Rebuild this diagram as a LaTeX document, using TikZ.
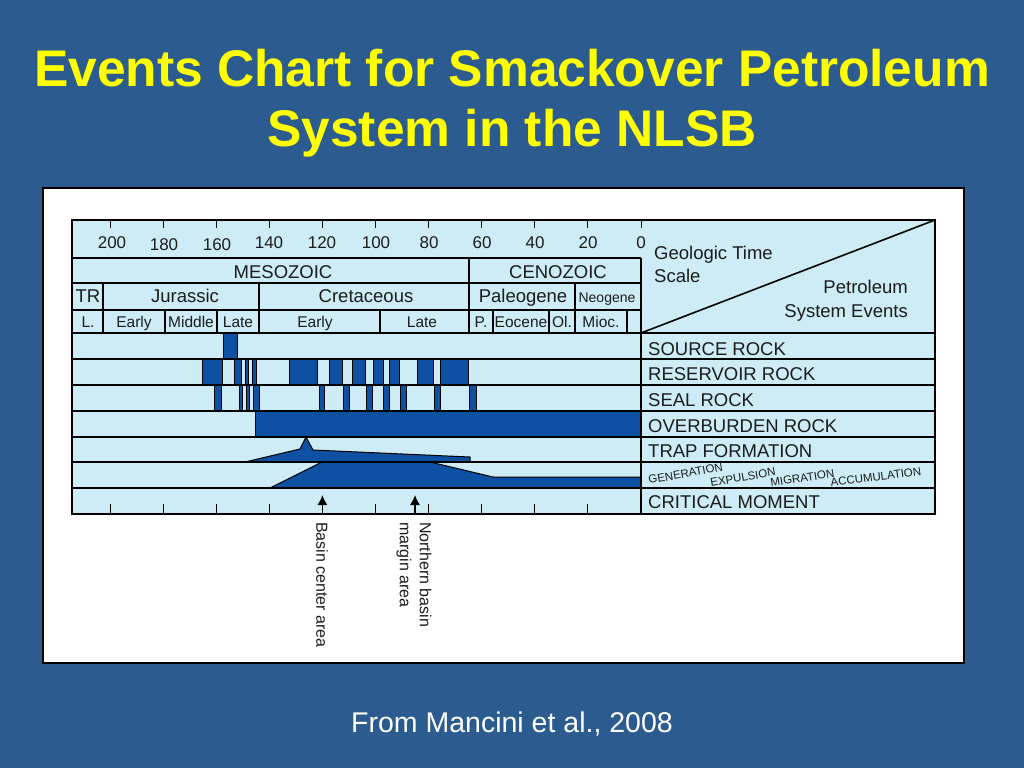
\documentclass[tikz,border=0pt]{standalone}
\usepackage{fontspec}
\setmainfont{Liberation Sans}
\usetikzlibrary{arrows.meta}
\definecolor{slidebg}{RGB}{43,91,143}
\definecolor{chartbg}{RGB}{205,236,245}
\definecolor{barblue}{RGB}{14,80,162}
\definecolor{ink}{RGB}{28,28,28}
\definecolor{titley}{RGB}{255,255,0}
\begin{document}
\begin{tikzpicture}[x=1pt,y=-1pt,
  lbl/.style={inner sep=0pt, text=ink, anchor=base},
  fsz/.style={font=\fontsize{#1}{#1}\selectfont},
  rowlbl/.style={lbl, anchor=base west, fsz=18.5},
  hdr/.style={lbl, fsz=18.5},
  epo/.style={lbl, fsz=15.5},
  tick/.style={lbl, fsz=17},
  proc/.style={lbl, anchor=base west, fsz=11.5},
  gridline/.style={draw=black, line width=1.6pt},
  bar/.style={fill=barblue, draw=black, line width=1pt},
  arr/.style={draw=black, line width=1.4pt, -{Latex[length=10pt,width=10pt]}},
  title/.style={inner sep=0pt, anchor=base, text=titley, font=\fontsize{51.5}{60}\selectfont\bfseries}
]
\useasboundingbox (0,0) rectangle (1024,768);
\fill[slidebg] (0,0) rectangle (1024,768);

% title
\node[title] (t1) at (512,86) {Events Chart for Smackover Petroleum};
\node[title] (t2) at (512,146) {System in the NLSB};

% white panel
\draw[fill=white, draw=black, line width=2pt] (43,188) rectangle (964,663);

% chart background
\fill[chartbg] (72,220) rectangle (935,514);

% source rock
\draw[bar] (223,333) rectangle (237,359);
% reservoir
\foreach \a/\b in {202/222,234/241,245/248,252/256,289/317,329/342,352/365,373/383,389/399,417/433,440/468}
  \draw[bar] (\a,359) rectangle (\b,385);
% seal
\foreach \a/\b in {214/221,239/242,246/249,253/259,319/324,343/349,366/372,383/389,400/406,434/440,469/476}
  \draw[bar] (\a,385) rectangle (\b,411);
% overburden
\draw[bar] (255,411) rectangle (641,437);
% trap formation
\draw[bar] (245,462) -- (300,449) -- (306,437) -- (313,450) -- (470,457) -- (470,462) -- cycle;
% generation etc
\draw[bar] (270,488) -- (322,462) -- (430,462) -- (493,477) -- (641,477) -- (641,488) -- cycle;

% grid
\draw[gridline] (72,220) rectangle (935,514);
\foreach \y in {258,283,310} \draw[gridline] (72,\y) -- (641,\y);
\foreach \y in {333,359,385,411,437,462,488} \draw[gridline] (72,\y) -- (935,\y);
\draw[gridline] (641,258) -- (641,514);
\draw[gridline] (641,333) -- (935,220);
\draw[gridline] (469,258) -- (469,283);
\foreach \x in {103,259,469,575} \draw[gridline] (\x,283) -- (\x,310);
\foreach \x in {103,165,217,259,380,469,493,549,575,627} \draw[gridline] (\x,310) -- (\x,333);

% ticks (top and bottom)
\foreach \t in {200,180,...,20} {
  \draw[black, line width=1pt] ({641-2.655*\t},220) -- ({641-2.655*\t},228);
  \draw[black, line width=1pt] ({641-2.655*\t},514) -- ({641-2.655*\t},504);
}
\draw[black, line width=1pt] (641,220) -- (641,228);

% tick labels
\node[tick] (n200) at (112,248) {200};
\node[tick] (n180) at (164,250) {180};
\node[tick] (n160) at (217,250) {160};
\node[tick] (n140) at (269,248) {140};
\node[tick] (n120) at (322,248) {120};
\node[tick] (n100) at (376,248) {100};
\node[tick] (n80) at (429,248) {80};
\node[tick] (n60) at (482,248) {60};
\node[tick] (n40) at (535,248) {40};
\node[tick] (n20) at (588,248) {20};
\node[tick] (n0) at (641,248) {0};

% era / period / epoch labels
\node[hdr] (meso) at (283,278) {MESOZOIC};
\node[hdr] (ceno) at (558,278) {CENOZOIC};
\node[hdr] (tr) at (88,302) {TR};
\node[hdr] (jur) at (185,302) {Jurassic};
\node[hdr] (cret) at (366,302) {Cretaceous};
\node[hdr] (paleo) at (523,302) {Paleogene};
\node[lbl, fsz=14] (neo) at (607,302) {Neogene};
\node[epo] (eL) at (88,327) {L.};
\node[epo] (eEJ) at (134,327) {Early};
\node[epo] (eMJ) at (191,327) {Middle};
\node[epo] (eLJ) at (238,327) {Late};
\node[epo] (eEK) at (315,327) {Early};
\node[epo] (eLK) at (422,327) {Late};
\node[epo] (eP) at (481,327) {P.};
\node[epo] (eEo) at (521,327) {Eocene};
\node[epo] (eOl) at (562,327) {Ol.};
\node[epo] (eMi) at (601,327) {Mioc.};

% corner box
\node[lbl, anchor=base west, fsz=18.5] (gts1) at (654,259) {Geologic Time};
\node[lbl, anchor=base west, fsz=18.5] (gts2) at (654,282) {Scale};
\node[lbl, anchor=base east, fsz=18.5] (pse1) at (908,293) {Petroleum};
\node[lbl, anchor=base east, fsz=18.5] (pse2) at (908,317) {System Events};

% row labels
\node[rowlbl] (lsrc) at (648,355) {SOURCE ROCK};
\node[rowlbl] (lres) at (648,380) {RESERVOIR ROCK};
\node[rowlbl] (lseal) at (648,406) {SEAL ROCK};
\node[rowlbl] (lover) at (648,432) {OVERBURDEN ROCK};
\node[rowlbl] (ltrap) at (648,457) {TRAP FORMATION};
\node[rowlbl] (lcrit) at (648,508) {CRITICAL MOMENT};
\node[proc, rotate=10] (pgen) at (649,484) {GENERATION};
\node[proc, rotate=10] (pexp) at (711,487) {EXPULSION};
\node[proc, rotate=9] (pmig) at (771,487) {MIGRATION};
\node[proc, rotate=7.5] (pacc) at (831,487) {ACCUMULATION};

% critical moment arrows
\coordinate (a1b) at (322.4,514);
\coordinate (a1t) at (322.4,495);
\coordinate (a2b) at (415,514);
\coordinate (a2t) at (415,495);
\draw[arr] (a1b) -- (a1t);
\draw[arr] (a2b) -- (a2t);
\node[lbl, anchor=west, rotate=-90, fsz=16] (bca) at (322,522) {Basin center area};
\node[lbl, anchor=west, rotate=-90, align=left, font=\fontsize{16}{20}\selectfont] (nbm) at (414,522) {Northern basin\\margin area};

% source
\node[inner sep=0pt, anchor=base, text=white, fsz=28.5] (src) at (512,732) {From Mancini et al., 2008};
\end{tikzpicture}
\end{document}
